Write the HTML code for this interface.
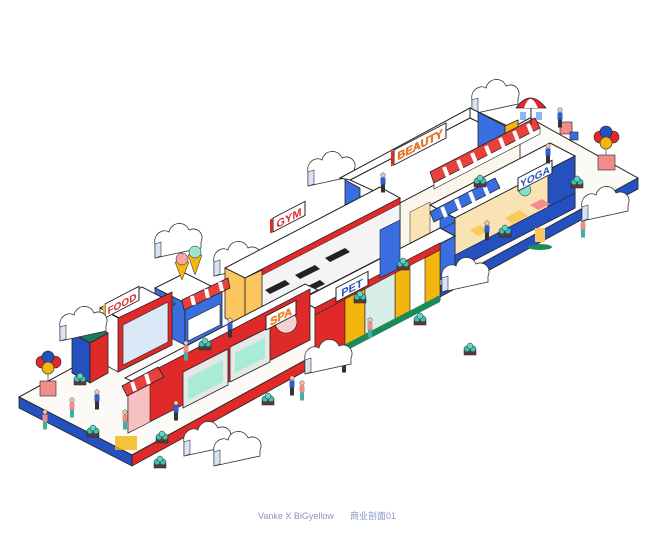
<!DOCTYPE html>
<html><head><meta charset="utf-8"><style>
html,body{margin:0;padding:0;background:#fff;width:658px;height:551px;overflow:hidden}
svg{display:block}
text{font-family:"Liberation Sans","Noto Sans CJK SC",sans-serif;font-weight:bold}
</style></head><body>
<svg width="658" height="551" viewBox="0 0 658 551" xmlns="http://www.w3.org/2000/svg">
<defs>
<g id="cloud">
<path d="M0,22 C-2,12 8,6 14,10 C16,0 30,-2 34,8 C42,4 50,12 46,20 L46,26 L0,36 Z" fill="#fff" stroke="#333" stroke-width="0.8"/>
<path d="M0,22 L0,36 L6,34 L6,20 Z" fill="#d9e3f7" stroke="#333" stroke-width="0.6"/>
</g>
<g id="plant">
<rect x="-6" y="0" width="12" height="5" fill="#5a3a3a" stroke="#222" stroke-width="0.5"/>
<circle cx="-3" cy="-1" r="3" fill="#3fc0b0" stroke="#222" stroke-width="0.5"/>
<circle cx="3" cy="-1" r="3" fill="#3fc0b0" stroke="#222" stroke-width="0.5"/>
<circle cx="0" cy="-4" r="3" fill="#5fd7c4" stroke="#222" stroke-width="0.5"/>
</g>
<g id="person">
<circle cx="0" cy="0" r="2.2" fill="#f4c7a8" stroke="#222" stroke-width="0.4"/>
<rect x="-2.5" y="2.5" width="5" height="7" fill="#2e5fd0"/>
<rect x="-2" y="9.5" width="4" height="8" fill="#333"/>
</g>
<g id="person2">
<circle cx="0" cy="0" r="2.2" fill="#f4c7a8" stroke="#222" stroke-width="0.4"/>
<rect x="-2.5" y="2.5" width="5" height="7" fill="#f28b8b"/>
<rect x="-2" y="9.5" width="4" height="8" fill="#3fb0a0"/>
</g>
</defs>

<!-- platform -->
<polygon points="19,397 132,455 638,178 530,118" fill="#fcfaf6" stroke="#222" stroke-width="1"/>
<polygon points="19,397 132,455 132,466 19,408" fill="#2450c0" stroke="#222" stroke-width="0.8"/>
<polygon points="132,455 320,352 320,363 132,466" fill="#e02a2a" stroke="#222" stroke-width="0.8"/>
<polygon points="320,352 345,338 345,349 320,363" fill="#f5b50f" stroke="#222" stroke-width="0.8"/>
<polygon points="345,338 440,286 440,297 345,349" fill="#e02a2a" stroke="#222" stroke-width="0.8"/>
<polygon points="440,286 638,178 638,189 440,297" fill="#2450c0" stroke="#222" stroke-width="0.8"/>

<!-- clouds back -->
<use href="#cloud" transform="translate(155,222)"/>
<use href="#cloud" transform="translate(214,240)"/>
<use href="#cloud" transform="translate(308,150)"/>
<use href="#cloud" transform="translate(472,78)"/>

<!-- beauty building -->
<polygon points="350,180 470,118 520,140 400,203" fill="#fff" stroke="#222" stroke-width="1"/>
<polygon points="340,178 470,108 470,118 350,180" fill="#fff" stroke="#222"/>
<polygon points="470,108 520,132 520,142 470,118" fill="#fff" stroke="#222"/>
<polygon points="345,180 360,188 360,230 345,222" fill="#3a6ee0" stroke="#222" stroke-width="0.8"/>
<polygon points="478,112 505,126 505,175 478,160" fill="#3a6ee0" stroke="#222" stroke-width="0.8"/>
<polygon points="505,126 518,120 518,170 505,175" fill="#f5b50f" stroke="#222" stroke-width="0.8"/>
<polygon points="400,203 520,140 520,195 400,258" fill="#fbf6ec" stroke="#222" stroke-width="0.8"/>
<polygon points="440,200 455,192 455,232 440,240" fill="#3a6ee0" stroke="#222" stroke-width="0.6"/>
<polygon points="460,190 480,180 480,222 460,232" fill="#f5b50f" stroke="#222" stroke-width="0.6"/>
<polygon points="410,212 430,202 430,240 410,250" fill="#f9e3b5" stroke="#222" stroke-width="0.5"/>
<!-- beauty awning -->
<polygon points="430,172 535,118 540,128 434,183" fill="#e8413c" stroke="#222" stroke-width="0.8"/>
<polygon points="434,183 540,128 540,134 434,189" fill="#fff" stroke="#222" stroke-width="0.6"/>
<g stroke="#fff" stroke-width="4">
<line x1="444" y1="167" x2="448" y2="177"/><line x1="458" y1="160" x2="462" y2="170"/><line x1="472" y1="153" x2="476" y2="163"/><line x1="486" y1="146" x2="490" y2="156"/><line x1="500" y1="138" x2="504" y2="148"/><line x1="514" y1="131" x2="518" y2="141"/><line x1="528" y1="124" x2="532" y2="134"/>
</g>
<g transform="matrix(1,-0.52,0,1,394,150)">
<rect x="0" y="0" width="52" height="15" fill="#fff" stroke="#222"/>
<rect x="-3" y="0" width="3" height="15" fill="#e02a2a"/>
<text x="26" y="12" font-size="11" fill="#f5a50f" stroke="#c22" stroke-width="0.4" text-anchor="middle">BEAUTY</text>
</g>
<!-- umbrella -->
<path d="M516,108 Q530,88 546,108 Z" fill="#e02a2a" stroke="#222" stroke-width="0.8"/>
<path d="M524,108 Q530,90 538,108 Z" fill="#fff"/>
<line x1="531" y1="108" x2="531" y2="125" stroke="#222"/>
<rect x="520" y="112" width="6" height="8" fill="#8fb5f0"/><rect x="536" y="112" width="6" height="8" fill="#8fb5f0"/>
<rect x="560" y="122" width="12" height="12" fill="#f28b8b" stroke="#222" stroke-width="0.6"/>
<rect x="570" y="132" width="8" height="8" fill="#3a6ee0" stroke="#222" stroke-width="0.6"/>

<!-- yoga building -->
<polygon points="430,205 550,143 575,156 455,218" fill="#fff" stroke="#222" stroke-width="1"/>
<polygon points="455,218 575,156 575,208 455,270" fill="#f9e3b5" stroke="#222" stroke-width="0.8"/>
<polygon points="440,230 455,222 455,272 440,280" fill="#3a6ee0" stroke="#222" stroke-width="0.6"/>
<polygon points="548,170 575,156 575,208 548,222" fill="#2450c0" stroke="#222" stroke-width="0.8"/>
<polygon points="455,255 575,193 575,208 455,270" fill="#2450c0" stroke="#222" stroke-width="0.6"/>
<circle cx="525" cy="190" r="6" fill="#7fe0cc" stroke="#222" stroke-width="0.5"/>
<polygon points="505,218 520,210 528,216 512,224" fill="#f9c95a"/>
<polygon points="470,230 480,225 488,231 478,236" fill="#f9c95a"/>
<polygon points="530,205 542,199 550,204 538,210" fill="#f28b8b"/>
<g transform="matrix(1,-0.52,0,1,518,178)">
<rect x="0" y="0" width="34" height="13" fill="#fff" stroke="#222"/>
<text x="17" y="11" font-size="10" fill="#2450c0" text-anchor="middle">YOGA</text>
</g>
<polygon points="430,212 495,178 500,188 434,222" fill="#3a6ee0" stroke="#222" stroke-width="0.8"/>
<g stroke="#fff" stroke-width="4">
<line x1="442" y1="207" x2="446" y2="217"/><line x1="456" y1="199" x2="460" y2="209"/><line x1="470" y1="192" x2="474" y2="202"/><line x1="484" y1="185" x2="488" y2="195"/>
</g>

<!-- gym upper -->
<polygon points="225,268 380,187 400,198 245,278" fill="#fff" stroke="#222" stroke-width="1"/>
<polygon points="245,278 400,198 400,248 245,328" fill="#f4f4f4" stroke="#222" stroke-width="0.8"/>
<polygon points="245,278 400,198 400,204 245,284" fill="#e02a2a" stroke="#222" stroke-width="0.5"/>
<g fill="#222">
<polygon points="265,290 285,280 290,284 270,294"/><polygon points="295,275 315,265 320,269 300,279"/><polygon points="325,258 345,248 350,252 330,262"/><polygon points="260,310 280,300 285,304 265,314"/><polygon points="300,290 320,280 325,284 305,294"/>
</g>
<polygon points="225,268 245,278 245,328 225,318" fill="#fbc65f" stroke="#222" stroke-width="0.8"/>
<polygon points="245,278 262,270 262,318 245,328" fill="#fbc65f" stroke="#222" stroke-width="0.8"/>
<g transform="matrix(1,-0.52,0,1,273,218)">
<rect x="0" y="0" width="32" height="14" fill="#fff" stroke="#222"/>
<rect x="-3" y="0" width="3" height="14" fill="#e02a2a"/>
<text x="16" y="12" font-size="11" fill="#e02a2a" text-anchor="middle">GYM</text>
</g>

<!-- pet block -->
<polygon points="300,300 440,228 455,236 315,308" fill="#fff" stroke="#222" stroke-width="1"/>
<polygon points="315,308 440,243 440,300 315,365" fill="#fff" stroke="#222" stroke-width="0.8"/>
<polygon points="315,308 440,243 440,250 315,315" fill="#e02a2a" stroke="#222" stroke-width="0.5"/>
<polygon points="315,315 345,299 345,350 315,366" fill="#e02a2a" stroke="#222" stroke-width="0.6"/>
<polygon points="345,299 365,289 365,340 345,350" fill="#f5b50f" stroke="#222" stroke-width="0.6"/>
<polygon points="395,273 410,265 410,316 395,324" fill="#f5b50f" stroke="#222" stroke-width="0.6"/>
<polygon points="425,258 440,250 440,300 425,308" fill="#f5b50f" stroke="#222" stroke-width="0.6"/>
<polygon points="365,289 395,273 395,324 365,340" fill="#d8efe9" stroke="#222" stroke-width="0.6"/>
<polygon points="315,360 440,295 440,302 315,367" fill="#1e8a5a"/>
<g transform="matrix(1,-0.52,0,1,336,288)">
<rect x="0" y="0" width="32" height="14" fill="#fff" stroke="#222"/>
<text x="16" y="12" font-size="11" fill="#2450c0" text-anchor="middle">PET</text>
</g>
<polygon points="380,230 400,220 400,268 380,278" fill="#3a6ee0" stroke="#222" stroke-width="0.6"/>

<!-- ice cream shop -->
<polygon points="155,288 185,273 215,288 185,303" fill="#fff" stroke="#222"/>
<polygon points="155,288 185,303 185,345 155,330" fill="#3a6ee0" stroke="#222" stroke-width="0.8"/>
<polygon points="185,303 215,288 222,292 222,330 185,348" fill="#3a6ee0" stroke="#222" stroke-width="0.8"/>
<polygon points="188,320 220,304 220,325 188,341" fill="#fff" stroke="#222" stroke-width="0.6"/>
<polygon points="182,300 228,278 230,288 184,310" fill="#e8413c" stroke="#222" stroke-width="0.8"/>
<g stroke="#fff" stroke-width="4"><line x1="192" y1="296" x2="194" y2="305"/><line x1="206" y1="289" x2="208" y2="298"/><line x1="220" y1="282" x2="222" y2="291"/></g>
<polygon points="175,262 182,280 189,262" fill="#f5b50f" stroke="#222" stroke-width="0.5"/>
<circle cx="182" cy="259" r="6" fill="#f4a6a6" stroke="#222" stroke-width="0.5"/>
<polygon points="188,255 195,275 202,255" fill="#f5b50f" stroke="#222" stroke-width="0.5"/>
<circle cx="195" cy="252" r="6" fill="#9fe3d1" stroke="#222" stroke-width="0.5"/>

<!-- food building -->
<polygon points="100,308 142,287 175,304 133,325" fill="#fff" stroke="#222"/>
<polygon points="118,318 172,292 172,345 118,372" fill="#e02a2a" stroke="#222" stroke-width="0.8"/>
<polygon points="123,325 168,302 168,342 123,365" fill="#dbe8f7" stroke="#222" stroke-width="0.6"/>
<polygon points="100,308 118,318 118,372 100,362" fill="#fff" stroke="#222" stroke-width="0.8"/>
<g transform="matrix(1,-0.52,0,1,105,304)">
<rect x="0" y="0" width="34" height="14" fill="#fff" stroke="#222"/>
<rect x="-2" y="0" width="2" height="14" fill="#f5b50f"/>
<text x="17" y="12" font-size="10" fill="#e02a2a" text-anchor="middle">FOOD</text>
</g>
<polygon points="72,333 90,343 108,333 90,323" fill="#1e7a5a" stroke="#222" stroke-width="0.8"/>
<polygon points="72,333 90,343 90,383 72,373" fill="#2450c0" stroke="#222" stroke-width="0.8"/>
<polygon points="90,343 108,333 108,373 90,383" fill="#e02a2a" stroke="#222" stroke-width="0.8"/>

<!-- long red wall (spa) -->
<polygon points="125,378 305,284 318,290 138,384" fill="#fff" stroke="#222"/>
<polygon points="128,384 310,289 310,340 128,433" fill="#e02a2a" stroke="#222" stroke-width="0.8"/>
<polygon points="128,384 150,373 150,422 128,433" fill="#f8c0c0" stroke="#222" stroke-width="0.6"/>
<polygon points="183,372 228,349 228,385 183,408" fill="#e7e7e7" stroke="#222" stroke-width="0.8"/>
<polygon points="188,378 223,360 223,382 188,400" fill="#a8ecd8"/>
<polygon points="230,347 270,327 270,362 230,382" fill="#e7e7e7" stroke="#222" stroke-width="0.8"/>
<polygon points="235,353 265,338 265,358 235,373" fill="#a8ecd8"/>
<circle cx="286" cy="322" r="11" fill="#f7d0d0" stroke="#222" stroke-width="0.6"/>
<polygon points="122,386 158,367 164,377 127,396" fill="#e8413c" stroke="#222" stroke-width="0.8"/>
<g stroke="#fff" stroke-width="4"><line x1="132" y1="382" x2="135" y2="391"/><line x1="146" y1="374" x2="149" y2="384"/></g>
<g transform="matrix(1,-0.52,0,1,266,316)">
<rect x="0" y="0" width="30" height="14" fill="#fff" stroke="#222"/>
<text x="15" y="12" font-size="11" fill="#f5a50f" stroke="#c22" stroke-width="0.3" text-anchor="middle">SPA</text>
</g>

<!-- balloons -->
<line x1="48" y1="370" x2="48" y2="382" stroke="#222" stroke-width="0.6"/>
<circle cx="42" cy="362" r="6" fill="#e02a2a" stroke="#222" stroke-width="0.6"/>
<circle cx="55" cy="362" r="6" fill="#e02a2a" stroke="#222" stroke-width="0.6"/>
<circle cx="48" cy="357" r="6" fill="#2450c0" stroke="#222" stroke-width="0.6"/>
<circle cx="48" cy="368" r="6" fill="#f5b50f" stroke="#222" stroke-width="0.6"/>
<rect x="40" y="381" width="16" height="15" fill="#f28b8b" stroke="#222" stroke-width="0.6"/>
<line x1="606" y1="145" x2="606" y2="156" stroke="#222" stroke-width="0.6"/>
<circle cx="600" cy="137" r="6" fill="#e02a2a" stroke="#222" stroke-width="0.6"/>
<circle cx="613" cy="137" r="6" fill="#e02a2a" stroke="#222" stroke-width="0.6"/>
<circle cx="606" cy="132" r="6" fill="#2450c0" stroke="#222" stroke-width="0.6"/>
<circle cx="606" cy="143" r="6" fill="#f5b50f" stroke="#222" stroke-width="0.6"/>
<rect x="598" y="155" width="17" height="15" fill="#f28b8b" stroke="#222" stroke-width="0.6"/>

<!-- plants -->
<use href="#plant" transform="translate(80,380)"/>
<use href="#plant" transform="translate(93,432)"/>
<use href="#plant" transform="translate(162,438)"/>
<use href="#plant" transform="translate(205,345)"/>
<use href="#plant" transform="translate(268,400)"/>
<use href="#plant" transform="translate(160,463)"/>
<use href="#plant" transform="translate(420,320)"/>
<use href="#plant" transform="translate(360,298)"/>
<use href="#plant" transform="translate(505,232)"/>
<use href="#plant" transform="translate(480,182)"/>
<use href="#plant" transform="translate(577,183)"/>
<use href="#plant" transform="translate(470,350)"/>
<use href="#plant" transform="translate(403,265)"/>

<!-- people -->
<use href="#person2" transform="translate(45,412)"/>
<use href="#person" transform="translate(97,392)"/>
<use href="#person2" transform="translate(125,412)"/>
<use href="#person" transform="translate(176,403)"/>
<use href="#person" transform="translate(292,378)"/>
<use href="#person2" transform="translate(302,383)"/>
<use href="#person" transform="translate(344,355)"/>
<use href="#person2" transform="translate(370,320)"/>
<use href="#person" transform="translate(487,223)"/>
<use href="#person" transform="translate(548,146)"/>
<use href="#person2" transform="translate(583,220)"/>
<use href="#person" transform="translate(230,320)"/>
<use href="#person2" transform="translate(186,343)"/>
<use href="#person" transform="translate(383,175)"/>
<use href="#person2" transform="translate(72,400)"/>
<use href="#person" transform="translate(560,110)"/>
<rect x="115" y="436" width="22" height="14" fill="#f5b50f" opacity="0.8"/>
<ellipse cx="540" cy="247" rx="12" ry="3" fill="#1e8a5a"/>
<rect x="535" y="228" width="10" height="14" fill="#fbc65f"/>

<!-- front clouds -->
<use href="#cloud" transform="translate(60,305)"/>
<use href="#cloud" transform="translate(442,256)"/>
<use href="#cloud" transform="translate(582,185)"/>
<use href="#cloud" transform="translate(184,420)"/>
<use href="#cloud" transform="translate(214,430)"/>
<use href="#cloud" transform="translate(305,338)"/>

<text x="258" y="519" font-size="9" fill="#8a93c4" style="font-weight:normal">Vanke X BiGyellow</text>
<text x="350" y="519" font-size="9" fill="#8a93c4" style="font-weight:normal">商业剖面01</text>
</svg>
</body></html>
